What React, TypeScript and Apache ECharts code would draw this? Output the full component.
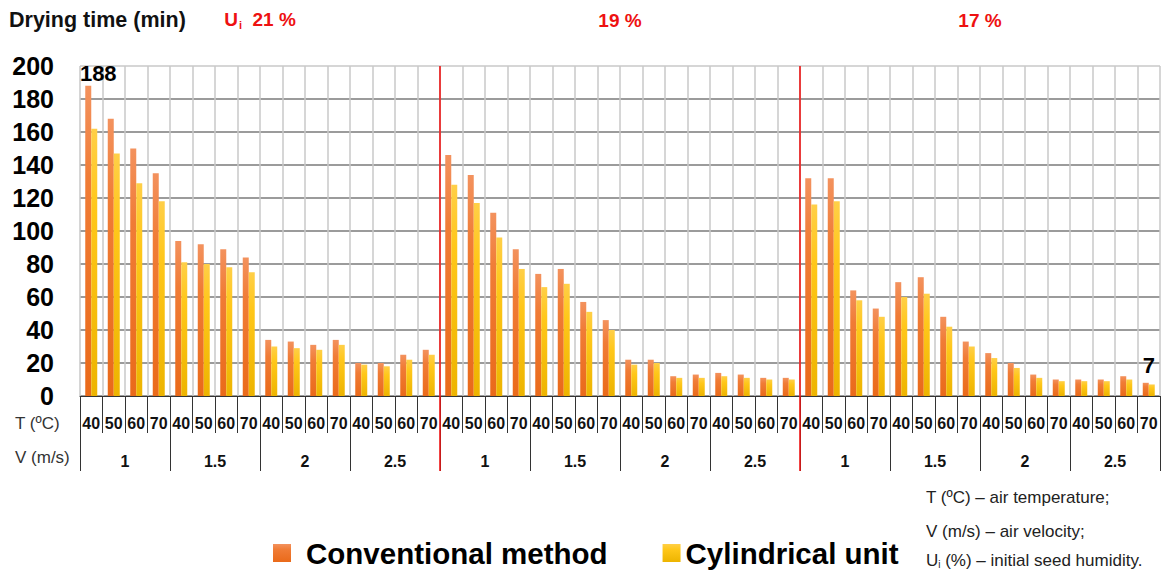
import React, { useEffect, useRef } from 'react';
import * as echarts from 'echarts';

// ---- data ----
const humidityLevels = ['21 %', '19 %', '17 %'];
const velocities = ['1', '1.5', '2', '2.5'];
const temperatures = ['40', '50', '60', '70'];
const yMin = 0;
const yMax = 200;
const yInterval = 20;

const conventional = [
  188, 168, 150, 135, 94, 92, 89, 84, 34, 33, 31, 34, 20, 20, 25, 28,
  146, 134, 111, 89, 74, 77, 57, 46, 22, 22, 12, 13, 14, 13, 11, 11,
  132, 132, 64, 53, 69, 72, 48, 33, 26, 20, 13, 10, 10, 10, 12, 8,
];
const cylindrical = [
  162, 147, 129, 118, 81, 80, 78, 75, 30, 29, 28, 31, 19, 18, 22, 25,
  128, 117, 96, 77, 66, 68, 51, 40, 19, 20, 11, 11, 12, 11, 10, 10,
  116, 118, 58, 48, 60, 62, 42, 30, 23, 17, 11, 9, 9, 9, 10, 7,
];
const seriesNames = ['Conventional method', 'Cylindrical unit'];
const labelledConventional = [0];
const labelledCylindrical = [47];
const notes = ['T (ºC) – air temperature;', 'V (m/s) – air velocity;', ' (%) – initial seed humidity.'];

const FONT = "'Liberation Sans', Arial, sans-serif";

export default function App() {
  const ref = useRef<HTMLDivElement>(null);

  useEffect(() => {
    if (!ref.current) return;
    const chart = echarts.init(ref.current, null, { renderer: 'svg' });

    const tCategories = humidityLevels.flatMap((h) =>
      velocities.flatMap((v) => temperatures.map((t) => `${h}|${v}|${t}`))
    );
    const vCategories = humidityLevels.flatMap((h) => velocities.map((v) => `${h}|${v}`));
    const perGroup = velocities.length * temperatures.length;
    const dividers = humidityLevels.slice(1).map((_, i) => [(i + 1) * perGroup, yMin]);

    const ySplitColors = [];
    for (let v = yMin; v <= yMax; v += yInterval) ySplitColors.push(v === yMax ? '#c8c8c8' : '#7a7a7a');

    const valueLabel = {
      show: true,
      position: 'top',
      fontSize: 22,
      fontWeight: 'bold',
      color: '#000',
      fontFamily: FONT,
    };

    const convGrad = new echarts.graphic.LinearGradient(0, 0, 0, 1, [
      { offset: 0, color: '#F3925E' },
      { offset: 0.3, color: '#F07C36' },
      { offset: 1, color: '#EA6A1A' },
    ]);
    const cylGrad = new echarts.graphic.LinearGradient(0, 0, 0, 1, [
      { offset: 0, color: '#FFCF48' },
      { offset: 0.3, color: '#FFC71A' },
      { offset: 1, color: '#EDB400' },
    ]);

    chart.setOption({
      animation: false,
      grid: { left: 80, right: 1, top: 66, bottom: 175, containLabel: false },
      legend: {
        left: 268,
        top: 533,
        itemWidth: 18,
        itemHeight: 18,
        itemGap: 55,
        icon: 'rect',
        data: [
          { name: seriesNames[0], textStyle: { padding: [0, 0, 0, 10] } },
          { name: seriesNames[1], textStyle: { padding: [0, 0, 0, 0] } },
        ],
        textStyle: { fontSize: 29.5, fontWeight: 'bold', color: '#000', fontFamily: FONT },
      },
      xAxis: [
        {
          type: 'category',
          position: 'bottom',
          data: tCategories,
          axisLine: { show: true, lineStyle: { color: '#333', width: 1 } },
          axisTick: { show: true, interval: 0, length: 37, lineStyle: { color: '#333', width: 1 } },
          axisLabel: {
            interval: 0,
            margin: 19,
            fontSize: 16,
            fontWeight: 'bold',
            color: '#111',
            fontFamily: FONT,
            formatter: (v: string) => v.split('|')[2],
          },
          splitLine: { show: true, interval: 0, lineStyle: { color: '#c8c8c8', width: 1.5 } },
        },
        {
          type: 'category',
          position: 'bottom',
          data: vCategories,
          axisLine: { show: false },
          axisTick: { show: true, interval: 0, length: 75, lineStyle: { color: '#333', width: 1 } },
          axisLabel: {
            interval: 0,
            margin: 57,
            fontSize: 16,
            fontWeight: 'bold',
            color: '#111',
            fontFamily: FONT,
            formatter: (v: string) => v.split('|')[1],
          },
          splitLine: { show: false },
        },
        {
          type: 'category',
          position: 'top',
          data: humidityLevels,
          axisLine: { show: false },
          axisTick: { show: false },
          splitLine: { show: false },
          axisLabel: {
            interval: 0,
            margin: 36,
            formatter: (v: string, i: number) => (i === 0 ? `{u|U}{s|i}{p|  ${v}}` : `{p|${v}}`),
            rich: {
              u: { fontSize: 19, fontWeight: 'bold', color: '#EE1111', fontFamily: FONT },
              s: { fontSize: 11, fontWeight: 'bold', color: '#EE1111', fontFamily: FONT, padding: [10, 0, 0, 1] },
              p: { fontSize: 19, fontWeight: 'bold', color: '#EE1111', fontFamily: FONT },
            },
          },
        },
      ],
      yAxis: {
        type: 'value',
        min: yMin,
        max: yMax,
        interval: yInterval,
        axisLine: { show: false },
        axisTick: { show: false },
        axisLabel: { margin: 26, fontSize: 25, fontWeight: 'bold', color: '#000', fontFamily: FONT },
        splitLine: { show: true, lineStyle: { color: ySplitColors, width: 1.5 } },
      },
      series: [
        {
          name: seriesNames[0],
          type: 'bar',
          xAxisIndex: 0,
          barWidth: 6,
          barGap: '0%',
          itemStyle: { color: convGrad },
          data: conventional.map((v, i) =>
            labelledConventional.includes(i)
              ? { value: v, label: { ...valueLabel, distance: 1, offset: [10, 0] } }
              : v
          ),
        },
        {
          name: seriesNames[1],
          type: 'bar',
          xAxisIndex: 0,
          barWidth: 6,
          barGap: '0%',
          itemStyle: { color: cylGrad },
          data: cylindrical.map((v, i) =>
            labelledCylindrical.includes(i)
              ? { value: v, label: { ...valueLabel, distance: 8, offset: [-3, 0] } }
              : v
          ),
        },
        {
          name: 'dividers',
          type: 'custom',
          xAxisIndex: 0,
          clip: false,
          z: 10,
          encode: { x: 0, y: 1 },
          data: dividers,
          renderItem: (params: any, api: any) => {
            const idx = api.value(0);
            const top = api.coord([idx, yMax]);
            const bottom = api.coord([idx, yMin]);
            const half = api.size([1, 0])[0] / 2;
            const x = top[0] - half;
            return {
              type: 'line',
              shape: { x1: x, y1: top[1], x2: x, y2: bottom[1] + 75 },
              style: { stroke: '#EE1515', lineWidth: 1.6 },
            };
          },
        },
      ],
      graphic: [
        {
          type: 'text',
          x: 9,
          y: 20,
          style: { text: 'Drying time (min)', fontSize: 21.5, fontWeight: 'bold', fill: '#111', fontFamily: FONT, verticalAlign: 'middle' },
        },
        {
          type: 'text',
          x: 15,
          y: 423,
          style: { text: 'T (ºC)', fontSize: 17, fill: '#333', fontFamily: FONT, verticalAlign: 'middle' },
        },
        {
          type: 'text',
          x: 15,
          y: 457,
          style: { text: 'V (m/s)', fontSize: 17, fill: '#333', fontFamily: FONT, verticalAlign: 'middle' },
        },
        {
          type: 'text',
          x: 926,
          y: 497,
          style: { text: notes[0], fontSize: 17, fill: '#222', fontFamily: FONT, verticalAlign: 'middle' },
        },
        {
          type: 'text',
          x: 926,
          y: 531,
          style: { text: notes[1], fontSize: 17, fill: '#222', fontFamily: FONT, verticalAlign: 'middle' },
        },
        {
          type: 'text',
          x: 926,
          y: 560,
          style: {
            text: `{u|U}{s|i}{n|${notes[2]}}`,
            verticalAlign: 'middle',
            rich: {
              u: { fontSize: 17, fill: '#222', color: '#222', fontFamily: FONT },
              s: { fontSize: 10, fill: '#222', color: '#222', fontFamily: FONT, padding: [8, 0, 0, 0] },
              n: { fontSize: 17, fill: '#222', color: '#222', fontFamily: FONT },
            },
          },
        },
      ],
    });

    return () => chart.dispose();
  }, []);

  return (
    <div
      ref={ref}
      style={{ position: 'fixed', left: 0, top: 0, width: 1161, height: 571, background: '#fff' }}
    />
  );
}
